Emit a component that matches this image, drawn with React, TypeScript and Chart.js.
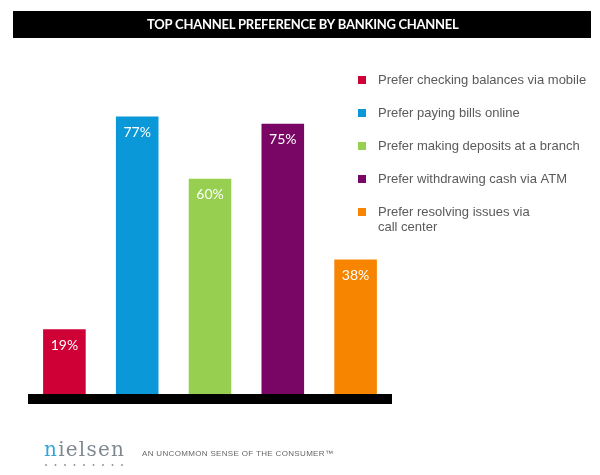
import React, { useEffect, useRef } from "react";
import { Chart, registerables } from "chart.js";

Chart.register(...registerables);

const title = "TOP CHANNEL PREFERENCE BY BANKING CHANNEL";
const categories: string[][] = [
  ["Prefer checking balances via mobile"],
  ["Prefer paying bills online"],
  ["Prefer making deposits at a branch"],
  ["Prefer withdrawing cash via ATM"],
  ["Prefer resolving issues via", "call center"],
];
const values = [19, 77, 60, 75, 38];
const colors = ["#cf0036", "#0a98d8", "#97cf51", "#790664", "#f78500"];
const brandFirst = "n";
const brandRest = "ielsen";
const tagline = "AN UNCOMMON SENSE OF THE CONSUMER\u2122";

function fitText(ctx: CanvasRenderingContext2D, text: string, target: number) {
  (ctx as any).letterSpacing = "0px";
  const w = ctx.measureText(text).width;
  const ls = (target - w) / Math.max(1, text.length - 1);
  (ctx as any).letterSpacing = ls.toFixed(2) + "px";
}

const decor = {
  id: "decor",
  afterDatasetsDraw(chart: any) {
    const ctx: CanvasRenderingContext2D = chart.ctx;
    const area = chart.chartArea;
    const yScale = chart.scales.y;
    ctx.save();

    // title band
    ctx.fillStyle = "#000";
    ctx.fillRect(13, 11, 578, 27);
    ctx.fillStyle = "#fff";
    ctx.font = "bold 13px Lato";
    ctx.textBaseline = "middle";
    ctx.textAlign = "left";
    fitText(ctx, title, 312);
    ctx.fillText(title, 147, 25);
    (ctx as any).letterSpacing = "0px";

    // baseline
    const y0 = yScale.getPixelForValue(0);
    ctx.fillStyle = "#000";
    ctx.fillRect(area.left, y0 - 5, area.right - area.left, 10);

    // value labels
    const meta = chart.getDatasetMeta(0);
    ctx.font = "14px Lato";
    ctx.textAlign = "center";
    ctx.fillStyle = "#fff";
    meta.data.forEach((el: any, i: number) => {
      ctx.fillText(values[i] + "%", el.x, el.y + 16);
    });

    // legend
    ctx.textAlign = "left";
    ctx.font = "13px 'Liberation Sans'";
    categories.forEach((lines, i) => {
      const cy = 80 + i * 33;
      ctx.fillStyle = colors[i];
      ctx.fillRect(358, cy - 4, 8, 8);
      ctx.fillStyle = "#5a5a5a";
      lines.forEach((ln, j) => ctx.fillText(ln, 378, cy + j * 15));
    });

    // footer logo
    ctx.textBaseline = "alphabetic";
    ctx.font = "20px 'DejaVu Serif'";
    fitText(ctx, brandFirst + brandRest, 80);
    ctx.fillStyle = "#2ea6dc";
    ctx.fillText(brandFirst, 44, 456);
    const nw = ctx.measureText(brandFirst).width;
    ctx.fillStyle = "#808890";
    ctx.fillText(brandRest, 44 + nw, 456);
    (ctx as any).letterSpacing = "0px";
    ctx.fillStyle = "#8a8f94";
    for (let k = 0; k < 9; k++) {
      ctx.beginPath();
      ctx.arc(46 + k * 9.5, 465, 0.9, 0, Math.PI * 2);
      ctx.fill();
    }
    ctx.font = "8px 'Liberation Sans'";
    ctx.fillStyle = "#666";
    ctx.textBaseline = "middle";
    fitText(ctx, tagline, 191);
    ctx.fillText(tagline, 142, 454);
    (ctx as any).letterSpacing = "0px";

    ctx.restore();
  },
};

export default function App() {
  const ref = useRef<HTMLCanvasElement | null>(null);
  useEffect(() => {
    if (!ref.current) return;
    const chart = new Chart(ref.current, {
      type: "bar",
      data: {
        labels: categories.map((l) => l.join(" ")),
        datasets: [
          {
            data: values,
            backgroundColor: colors,
            borderWidth: 0,
            barPercentage: 1,
            categoryPercentage: 0.585,
          },
        ],
      },
      options: {
        responsive: false,
        animation: false,
        layout: { padding: { left: 28, right: 208, top: 32, bottom: 76 } },
        plugins: { legend: { display: false }, tooltip: { enabled: false }, title: { display: false } },
        scales: {
          x: { display: false },
          y: { display: false, min: 0, max: 100 },
        },
      },
      plugins: [decor],
    });
    return () => chart.destroy();
  }, []);
  return (
    <div style={{ position: "fixed", left: 0, top: 0, width: 600, height: 475, background: "#fff" }}>
      <canvas ref={ref} width={600} height={475} />
    </div>
  );
}
